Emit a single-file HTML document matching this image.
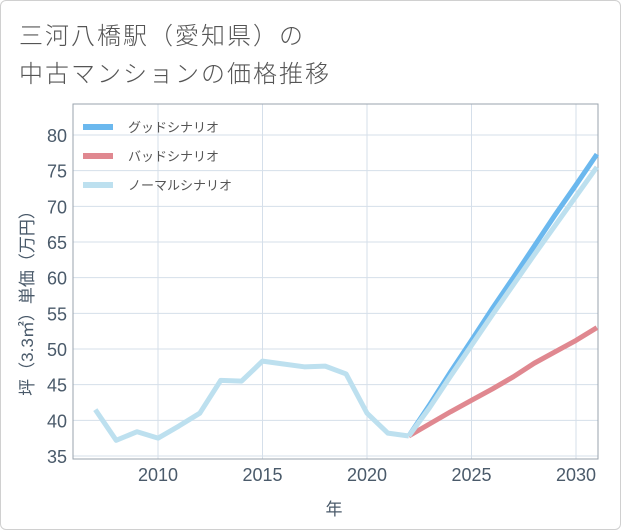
<!DOCTYPE html>
<html><head><meta charset="utf-8"><style>
body{margin:0;background:#fff;}
#wrap{position:relative;width:619px;height:528px;border:1px solid #d0d0d0;border-radius:6px;font-family:"Liberation Sans","Noto Sans CJK JP",sans-serif;overflow:hidden;}
#title{position:absolute;left:18px;top:14px;font-size:24px;letter-spacing:2px;line-height:38px;color:#555;font-family:"Noto Sans CJK JP",sans-serif;font-weight:300;}
</style></head><body>
<div id="wrap">
<div id="title">三河八橋駅（愛知県）の<br>中古マンションの価格推移</div>
<svg id="chart" width="621" height="530" style="position:absolute;left:0;top:0"></svg>
</div>
<script>
const histYears=[2007,2008,2009,2010,2011,2012,2013,2014,2015,2016,2017,2018,2019,2020,2021,2022];
const histValues=[41.5,37.2,38.4,37.5,39.2,41,45.6,45.5,48.3,47.9,47.5,47.6,46.5,41,38.2,37.8];
const futYears=[2022,2023,2024,2025,2026,2027,2028,2029,2030,2031];
const goodValues=[37.8,42.2,46.8,51.2,55.7,60.0,64.4,68.8,73.0,77.3];
const badValues=[37.8,39.5,41.2,42.8,44.4,46.1,48.0,49.6,51.2,53.0];
const normalValues=[37.8,41.8,46.2,50.5,54.8,59.0,63.2,67.3,71.4,75.5];
const xTicks=[2010,2015,2020,2025,2030];
const yTicks=[35,40,45,50,55,60,65,70,75,80];
const legendLabels=["グッドシナリオ","バッドシナリオ","ノーマルシナリオ"];
const X=y=>157+(y-2010)*20.9;
const Y=v=>134+(80-v)*7.133;
const svg=document.getElementById('chart');
const NS='http://www.w3.org/2000/svg';
function mk(t,a){const e=document.createElementNS(NS,t);for(const k in a)e.setAttribute(k,a[k]);svg.appendChild(e);return e;}
const L=72,R=597,T=103,B=458;
for(const v of yTicks){const g=mk('line',{x1:L,x2:R,y1:Y(v),y2:Y(v),stroke:'#d5dfea','stroke-width':1});


const t=mk('text',{x:L-6,y:Y(v)+7,'text-anchor':'end','font-size':18,fill:'#4a5a6a'});t.textContent=v;

}
for(const v of xTicks){const g=mk('line',{x1:X(v),x2:X(v),y1:T,y2:B,stroke:'#d5dfea','stroke-width':1});


const t=mk('text',{x:X(v),y:B+22,'text-anchor':'middle','font-size':18,fill:'#4a5a6a'});t.textContent=v;

}
const fr=mk('rect',{x:L,y:T,width:R-L,height:B-T,fill:'none',stroke:'#9aa3ad','stroke-width':1});


function line(xs,vs,c,n){const p=mk('polyline',{points:xs.map((x,i)=>X(x)+','+Y(vs[i])).join(' '),fill:'none',stroke:c,'stroke-width':5,'stroke-linejoin':'round'});

}
line(futYears,goodValues,'#6bb8ee','good-scenario-line');
line(futYears,badValues,'#e08890','bad-scenario-line');
line(futYears,normalValues,'#bde0ef','normal-scenario-line');
line(histYears,histValues,'#bde0ef','historical-line');
const cols=['#6bb8ee','#e08890','#bde0ef'];
legendLabels.forEach((s,i)=>{const y=126+i*29;
const l=mk('line',{x1:82,x2:112,y1:y,y2:y,stroke:cols[i],'stroke-width':6});


const t=mk('text',{x:127,y:y+5,'font-size':13,fill:'#555'});t.textContent=s;

});
const yt=mk('text',{x:0,y:0,'font-size':17,fill:'#4a5a6a','text-anchor':'middle',transform:'translate(32,298) rotate(-90)'});yt.textContent='坪（3.3㎡）単価（万円）';


const xt=mk('text',{x:333,y:514,'font-size':17,fill:'#4a5a6a','text-anchor':'middle'});xt.textContent='年';


</script>
</body></html>
